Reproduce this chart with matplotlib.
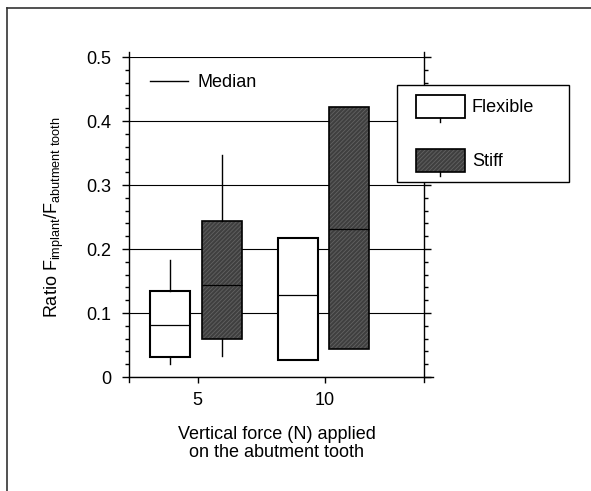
#!/usr/bin/env python3
"""
Box plot: ratio F_implant / F_abutment tooth vs vertical force
"""

import matplotlib
matplotlib.use('Agg')
import matplotlib.pyplot as plt
import matplotlib.colors as mcolors
from matplotlib.patches import Patch
from matplotlib.lines import Line2D
from matplotlib.legend_handler import HandlerPatch
from matplotlib.ticker import MultipleLocator, FixedLocator, FixedFormatter

plt.rcParams['font.family'] = ['Liberation Sans', 'DejaVu Sans']
plt.rcParams['mathtext.default'] = 'regular'
plt.rcParams['hatch.linewidth'] = 0.6

# Datos
fuerzas = [5, 10]
y_ticks = [0, 0.1, 0.2, 0.3, 0.4, 0.5]
y_labels = ['0', '0.1', '0.2', '0.3', '0.4', '0.5']
grupos = ['Flexible', 'Stiff']

# por grupo: [5 N, 10 N]
flex_q1 = [0.031, 0.027]
flex_med = [0.081, 0.128]
flex_q3 = [0.134, 0.217]
flex_lo = [0.020, 0.027]
flex_hi = [0.183, 0.217]

stiff_q1 = [0.059, 0.044]
stiff_med = [0.144, 0.231]
stiff_q3 = [0.244, 0.422]
stiff_lo = [0.033, 0.044]
stiff_hi = [0.347, 0.422]

DARK = '#3f3f3f'
HATCH = '#626262'
FS = 13


def make_stats(q1, med, q3, lo, hi):
    return [dict(q1=a, med=b, q3=c, whislo=d, whishi=e, fliers=[])
            for a, b, c, d, e in zip(q1, med, q3, lo, hi)]


class HandlerBox(HandlerPatch):
    """Rectángulo de leyenda con un pequeño bigote abajo"""
    def create_artists(self, legend, orig_handle, xdescent, ydescent,
                       width, height, fontsize, trans):
        arts = super().create_artists(legend, orig_handle, xdescent, ydescent,
                                      width, height, fontsize, trans)
        xc = -xdescent + width / 2
        y0 = -ydescent
        tick = Line2D([xc, xc], [y0, y0 - 3], color='black', lw=1.0, transform=trans)
        return arts + [tick]


fig = plt.figure(figsize=(5.91, 4.91), dpi=100)
ax = fig.add_axes([129 / 591, 1 - 377 / 491, (424 - 129) / 591, (377 - 57) / 491])

# Marco exterior (solo izquierda y arriba)
fig.add_artist(Line2D([7 / 591, 7 / 591], [0, 1 - 8 / 491], transform=fig.transFigure,
                      color='#333333', lw=1.2))
fig.add_artist(Line2D([7 / 591, 1], [1 - 8 / 491, 1 - 8 / 491], transform=fig.transFigure,
                      color='#333333', lw=1.2))

common = dict(widths=1.57, showcaps=False, showfliers=False, patch_artist=True,
              whiskerprops=dict(color='black', lw=1.0),
              medianprops=dict(color='black', lw=0.9), zorder=3)

pos_flex = [f - 1.07 for f in fuerzas]
pos_stiff = [f + 0.95 for f in fuerzas]

bf = ax.bxp(make_stats(flex_q1, flex_med, flex_q3, flex_lo, flex_hi), positions=pos_flex,
            boxprops=dict(facecolor='white', edgecolor='black', lw=1.5), **common)
bs = ax.bxp(make_stats(stiff_q1, stiff_med, stiff_q3, stiff_lo, stiff_hi), positions=pos_stiff,
            boxprops=dict(facecolor=DARK, edgecolor='black', lw=1.2, hatch='////////'), **common)
for b in bs['boxes']:
    b._hatch_color = mcolors.to_rgba(HATCH)

# Ejes
ax.set_xlim(2.3, 13.9)
ax.set_ylim(0, 0.5)
ax.yaxis.set_major_locator(FixedLocator(y_ticks))
ax.yaxis.set_major_formatter(FixedFormatter(y_labels))
ax.yaxis.set_minor_locator(MultipleLocator(0.02))
ax.set_xticks(fuerzas)
ax.set_xticklabels([str(f) for f in fuerzas])

ax.grid(axis='y', which='major', color='black', lw=0.8)
ax.set_axisbelow(True)

for s in ['left', 'right', 'bottom']:
    ax.spines[s].set_linewidth(1.0)
ax.spines['top'].set_visible(False)
ax.spines['left'].set_bounds(-0.008, 0.508)
ax.spines['right'].set_bounds(-0.008, 0.508)
ax.spines['bottom'].set_bounds(2.3, 14.25)

ax.tick_params(axis='y', which='major', left=True, right=True, direction='out',
               length=5, width=1, labelsize=FS, pad=8)
ax.tick_params(axis='y', which='minor', left=True, right=True, direction='out',
               length=2.8, width=1)
ax.tick_params(axis='x', which='major', direction='out', length=4, width=1,
               labelsize=FS, pad=7)

ax.set_ylabel('Ratio F$_{implant}$/F$_{abutment\\ tooth}$', fontsize=FS, labelpad=14)
ax.set_xlabel('Vertical force (N) applied\non the abutment tooth', fontsize=FS,
              labelpad=12, linespacing=1.05)

# Leyenda de mediana
leg1 = ax.legend(handles=[Line2D([], [], color='black', lw=1.0)], labels=['Median'],
                 loc='upper left', bbox_to_anchor=(150 / 591, 1 - 74 / 491),
                 bbox_transform=fig.transFigure, frameon=False, fontsize=FS,
                 handlelength=2.1, handletextpad=0.55, borderpad=0, borderaxespad=0)
ax.add_artist(leg1)

# Leyenda de grupos
h_flex = Patch(facecolor='white', edgecolor='black', lw=1.3)
h_stiff = Patch(facecolor=DARK, edgecolor='black', lw=1.2, hatch='////////')
h_stiff._hatch_color = mcolors.to_rgba(HATCH)
leg2 = ax.legend(handles=[h_flex, h_stiff], labels=grupos, loc='upper left',
                 bbox_to_anchor=(397 / 591, 1 - 85 / 491, 172 / 591, 0.0),
                 bbox_transform=fig.transFigure, mode='expand', fontsize=FS,
                 handlelength=3.2, handleheight=1.58, labelspacing=1.72,
                 handletextpad=0.39, borderpad=0.55, borderaxespad=0,
                 handler_map={Patch: HandlerBox(xpad=0.5)},
                 fancybox=False, framealpha=1, edgecolor='black')
leg2.get_frame().set_linewidth(1.0)
leg2.set_zorder(10)

plt.savefig('out.png', dpi=100)
plt.close()
print("Guardado: out.png")
